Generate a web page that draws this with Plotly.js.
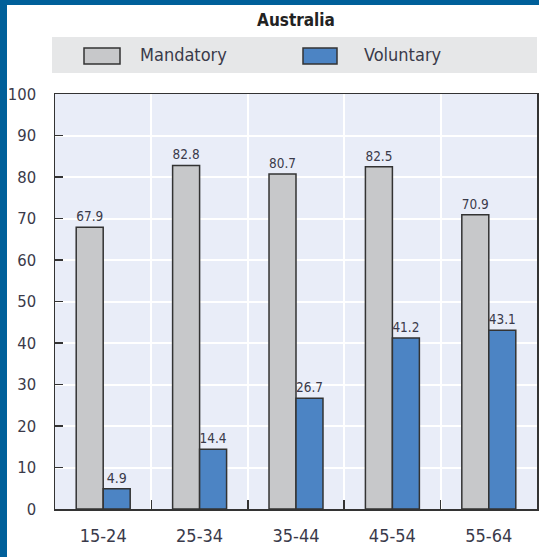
<!DOCTYPE html>
<html><head><meta charset="utf-8">
<script src="https://cdn.plot.ly/plotly-3.0.1.min.js"></script>
<style>
html,body{margin:0;padding:0;background:#fff;}
#wrap{position:relative;width:539px;height:557px;overflow:hidden;}
#chart{position:absolute;left:0;top:0;width:539px;height:557px;}
.bl{position:absolute;background:#00609a;z-index:5;}
</style></head><body>
<div id="wrap">
<div id="chart"></div>
<div class="bl" style="left:0;top:0;width:7px;height:557px;"></div>
<div class="bl" style="left:0;top:0;width:539px;height:5px;"></div>
</div>
<script>
const categories = ["15-24", "25-34", "35-44", "45-54", "55-64"];
const mandatory = [67.9, 82.8, 80.7, 82.5, 70.9];
const voluntary = [4.9, 14.4, 26.7, 41.2, 43.1];
const seriesNames = ["Mandatory", "Voluntary"];
const yTicks = [0, 10, 20, 30, 40, 50, 60, 70, 80, 90, 100];

const FONT = "'Liberation Sans Narrow', 'Arial Narrow', 'DejaVu Sans Condensed', sans-serif";
const TXT = "#3a3a4a";
const GRAY = "#c7c8ca";
const BLUE = "#4c84c4";
const EDGE = "#333333";

const fmt = v => v.toFixed(1);

const traces = [
  {type: "bar", name: seriesNames[0], x: categories, y: mandatory,
   marker: {color: GRAY, line: {color: EDGE, width: 1.5}},
   text: mandatory.map(fmt), textposition: "outside", cliponaxis: false,
   textfont: {family: FONT, size: 14, color: TXT}, showlegend: false, hoverinfo: "skip"},
  {type: "bar", name: seriesNames[1], x: categories, y: voluntary,
   marker: {color: BLUE, line: {color: EDGE, width: 1.5}},
   text: voluntary.map(fmt), textposition: "outside", cliponaxis: false,
   textfont: {family: FONT, size: 14, color: TXT}, showlegend: false, hoverinfo: "skip"}
];

const L = 55, R = 537, T = 94, B = 509, W = 539, H = 557;
const px = x => (x - L) / (R - L);
const py = y => (B - y) / (B - T);

const shapes = [
  {type: "rect", xref: "paper", yref: "paper", x0: px(52), x1: px(537), y0: py(73), y1: py(37),
   fillcolor: "#e6e7e8", line: {width: 0}, layer: "below"},
  {type: "rect", xref: "paper", yref: "paper", x0: px(84), x1: px(120), y0: py(64), y1: py(48),
   fillcolor: GRAY, line: {color: EDGE, width: 1.5}},
  {type: "rect", xref: "paper", yref: "paper", x0: px(303), x1: px(337), y0: py(64), y1: py(48),
   fillcolor: BLUE, line: {color: EDGE, width: 1.5}}
];

const annotations = [
  {xref: "paper", yref: "paper", x: px(138), y: py(55), xanchor: "left", yanchor: "middle",
   text: seriesNames[0], showarrow: false, font: {family: FONT, size: 18, color: TXT}},
  {xref: "paper", yref: "paper", x: px(362), y: py(55), xanchor: "left", yanchor: "middle",
   text: seriesNames[1], showarrow: false, font: {family: FONT, size: 18, color: TXT}}
];

const layout = {
  width: W, height: H,
  margin: {l: L, r: W - R, t: T, b: H - B, pad: 0},
  paper_bgcolor: "#ffffff",
  plot_bgcolor: "#e9edf8",
  title: {text: "<b>Australia</b>", x: px(296), xref: "paper", xanchor: "center",
          y: 1 - 20 / H, yanchor: "middle", font: {family: FONT, size: 17, color: "#222"}},
  barmode: "group",
  bargap: 0.44,
  bargroupgap: 0,
  showlegend: false,
  font: {family: FONT, color: TXT},
  xaxis: {type: "category", tickson: "boundaries", ticks: "inside", ticklen: 9, tickwidth: 1.5,
          tickcolor: EDGE, showgrid: true, gridcolor: "#ffffff", gridwidth: 2,
          showline: true, linecolor: EDGE, linewidth: 1.5, mirror: true,
          tickfont: {family: FONT, size: 18, color: TXT}, ticklabelstandoff: 10},
  yaxis: {range: [0, 100], tickvals: yTicks, ticktext: yTicks.map(String),
          ticks: "inside", ticklen: 8, tickwidth: 1.5, tickcolor: EDGE,
          showgrid: true, gridcolor: "#ffffff", gridwidth: 2, zeroline: false,
          showline: true, linecolor: EDGE, linewidth: 1.5, mirror: true,
          tickfont: {family: FONT, size: 16.5, color: TXT}, ticklabelstandoff: 14},
  shapes: shapes,
  annotations: annotations
};

Plotly.newPlot("chart", traces, layout, {displayModeBar: false, staticPlot: true});
</script>
</body></html>
